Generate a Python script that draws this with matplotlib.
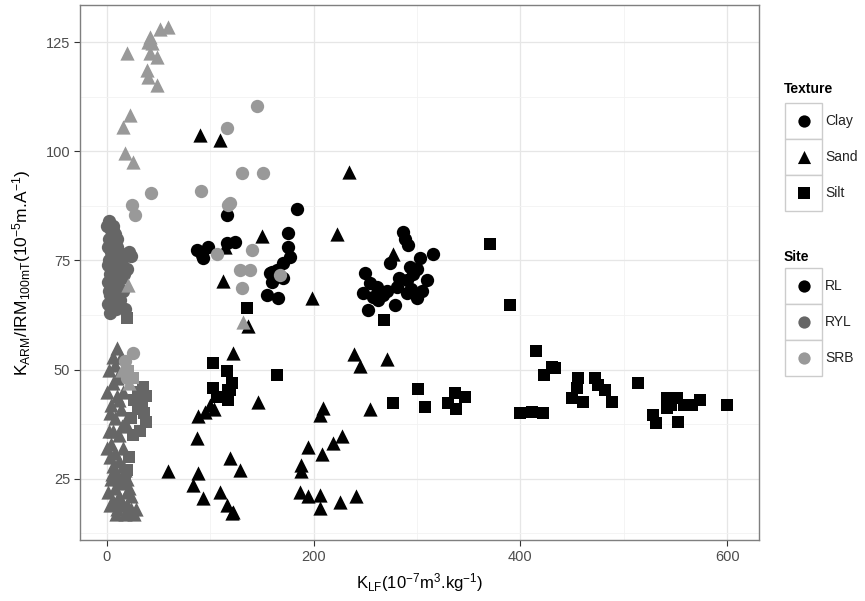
import matplotlib
matplotlib.use("Agg")
import matplotlib.pyplot as plt
from matplotlib.patches import Rectangle
from matplotlib.ticker import MultipleLocator

plt.rcParams['font.family'] = ['Liberation Sans', 'DejaVu Sans']
plt.rcParams['mathtext.fontset'] = 'custom'
plt.rcParams['mathtext.rm'] = 'Liberation Sans'
plt.rcParams['mathtext.it'] = 'Liberation Sans'

# ---------------- data ----------------
sites = ["RL", "RYL", "SRB"]
textures = ["Clay", "Sand", "Silt"]
site_colors = ["#000000", "#666666", "#999999"]
texture_markers = ["o", "^", "s"]

# RL (black)
rl_clay_x = [183.7, 175.6, 175.6, 177.3, 170.8, 164.4, 158.0, 170.8, 154.7, 166.0, 124.1, 116.0, 87.0, 91.9, 98.3, 93.4,
             159.6, 116.0, 160.0, 286.8, 291.7, 315.9, 303.0, 274.0, 293.3, 249.8, 309.5, 290.1, 254.6, 261.1, 248.2,
             267.5, 290.1, 299.8, 280.5, 253.0, 278.8, 257.8, 288.0, 296.0, 283.0, 271.0, 262.0, 305.0, 294.0, 300.0]
rl_clay_y = [86.7, 81.2, 78.2, 75.9, 74.4, 72.8, 72.1, 70.9, 67.1, 66.4, 79.3, 78.9, 77.4, 76.3, 78.2, 75.5,
             72.4, 85.4, 70.0, 81.6, 78.5, 76.6, 75.5, 74.4, 73.6, 72.1, 70.5, 70.5, 69.8, 69.0, 67.5,
             67.1, 67.5, 66.4, 69.0, 63.7, 64.8, 66.7, 80.0, 72.0, 71.0, 68.0, 66.0, 68.0, 68.5, 73.0]
rl_sand_x = [90.2, 109.6, 234.6, 150.5, 222.4, 277.2, 198.3, 137.0, 112.8, 114.4, 122.4, 239.1, 244.9, 271.4, 146.6,
             99.9, 95.1, 88.6, 87.0, 119.2, 128.9, 59.6, 88.6, 83.8, 109.6, 93.4, 116.0, 120.9, 122.4, 208.9, 206.3,
             254.6, 227.3, 218.6, 195.0, 207.9, 187.6, 187.6, 187.0, 195.0, 206.3, 206.3, 225.6, 241.1, 104.0]
rl_sand_y = [103.7, 102.6, 95.3, 80.6, 81.1, 76.6, 66.5, 59.9, 70.2, 78.2, 53.8, 53.5, 50.8, 52.4, 42.7,
             41.9, 40.4, 39.3, 34.3, 29.7, 27.1, 26.7, 26.3, 23.6, 22.1, 20.6, 19.0, 17.2, 17.5, 41.2, 39.6,
             41.0, 34.8, 33.2, 32.4, 30.7, 28.2, 26.7, 22.1, 21.0, 21.3, 18.4, 19.6, 21.0, 41.0]
rl_silt_x = [414.7, 430.4, 422.9, 433.6, 455.5, 454.5, 449.7, 460.9, 472.2, 475.4, 481.9, 488.4, 513.5, 528.6, 530.9,
             541.6, 551.3, 541.6, 552.8, 565.8, 573.8, 600.2, 399.7, 411.0, 421.7, 301.4, 307.8, 277.2, 336.8, 346.5,
             330.4, 337.8, 370.7, 390.0, 268.2, 135.4, 103.1, 116.0, 120.9, 103.1, 117.6, 164.4, 119.2, 117.6, 106.4,
             546.0, 558.0]
rl_silt_y = [54.3, 50.7, 48.8, 50.3, 48.0, 45.8, 43.5, 42.7, 48.0, 46.5, 45.4, 42.7, 47.0, 39.6, 37.7,
             43.5, 43.5, 41.2, 38.1, 41.9, 43.1, 41.8, 40.0, 40.4, 40.0, 45.5, 41.5, 42.3, 44.7, 43.8,
             42.3, 41.0, 78.8, 64.8, 61.4, 64.1, 51.5, 49.6, 46.9, 45.8, 45.4, 48.8, 45.4, 43.1, 43.8,
             42.0, 42.0]

# RYL (dark grey)
ryl_clay_x = [2, 6, 4, 8, 2, 6, 10, 4, 22, 8, 2, 12, 6, 20, 3, 9, 15, 5, 11, 2, 7, 13, 4, 9, 3, 16, 18, 24, 10,
              0, 4, 1, 5, 1, 7, 1, 3, 6, 1, 10, 12, 14, 8, 17, 19, 6]
ryl_clay_y = [84, 83, 82, 81, 80, 79, 78, 77, 77, 76, 75, 75, 74, 73, 72, 72, 71, 70, 69, 68, 67, 66, 65, 64, 63,
              68, 64, 76, 80, 83, 80, 78, 76, 74, 71, 70, 67, 65, 65, 73, 77, 74, 69, 72, 76, 82]
ryl_sand_x = [10, 14, 8, 12, 6, 16, 10, 4, 14, 8, 18, 6, 12, 4, 16, 8, 3, 12, 6, 18, 10, 4, 14, 8, 20, 12, 6, 16,
              22, 10, 26, 18, 14, 20, 24, 2, 6, 0, 3, 2, 0, 5, 1, 3, 9, 12, 16, 20, 22, 24, 28, 15, 10, 12]
ryl_sand_y = [55, 53, 51, 49, 47, 45, 44, 42, 41, 39, 38, 36, 35, 33, 32, 31, 30, 29, 28, 27, 26, 25, 24, 23, 22,
              21, 20, 19, 18, 18, 17, 17, 20, 25, 21, 50, 53, 45, 40, 36, 32, 26, 22, 19, 17, 25, 28, 19, 23, 18,
              18, 37, 48, 43]
ryl_silt_x = [35, 30, 38, 26, 34, 30, 36, 24, 38, 20, 22, 20, 18, 25, 32]
ryl_silt_y = [46, 45, 44, 43, 42, 41, 40, 39, 38, 61.8, 30, 27, 24, 35, 36]

# SRB (light grey)
srb_clay_x = [145.0, 116.0, 130.6, 151.5, 42.8, 91.2, 119.2, 117.6, 24.2, 27.4, 106.4, 140.2, 128.9, 138.6, 130.6,
              167.6, 25.7, 18.0, 20.0]
srb_clay_y = [110.4, 105.3, 95.0, 95.0, 90.5, 90.9, 88.1, 87.7, 87.7, 85.4, 76.6, 77.4, 72.8, 72.8, 68.6,
              71.7, 53.8, 52.0, 48.0]
srb_sand_x = [51.5, 59.6, 41.9, 40.2, 43.5, 19.3, 41.9, 48.4, 38.7, 40.2, 48.4, 22.5, 16.1, 17.7, 25.7,
              132.1, 20.9, 15.0, 22.0]
srb_sand_y = [128.1, 128.5, 126.2, 125.1, 124.7, 122.4, 122.4, 121.6, 118.6, 117.1, 115.2, 108.3, 105.6, 99.5, 97.6,
              61.0, 69.4, 50.0, 47.0]
srb_silt_x = [20.9, 25.0]
srb_silt_y = [49.6, 48.0]

groups = {
    ("RL", "Clay"): (rl_clay_x, rl_clay_y),
    ("RL", "Sand"): (rl_sand_x, rl_sand_y),
    ("RL", "Silt"): (rl_silt_x, rl_silt_y),
    ("RYL", "Clay"): (ryl_clay_x, ryl_clay_y),
    ("RYL", "Sand"): (ryl_sand_x, ryl_sand_y),
    ("RYL", "Silt"): (ryl_silt_x, ryl_silt_y),
    ("SRB", "Clay"): (srb_clay_x, srb_clay_y),
    ("SRB", "Sand"): (srb_sand_x, srb_sand_y),
    ("SRB", "Silt"): (srb_silt_x, srb_silt_y),
}
marker_sizes = {"o": 92, "^": 105, "s": 78}

x_ticks = [0, 200, 400, 600]
y_ticks = [25, 50, 75, 100, 125]

# ---------------- figure ----------------
W, H = 865, 601
fig = plt.figure(figsize=(W / 100, H / 100), dpi=100)
L, R, T, B = 80, 759, 5, 540
ax = fig.add_axes([L / W, 1 - B / H, (R - L) / W, (B - T) / H])

for s_i, site in enumerate(sites):
    for t_i, tex in enumerate(textures):
        xs, ys = groups[(site, tex)]
        m = texture_markers[t_i]
        ax.scatter(xs, ys, s=marker_sizes[m], marker=m, c=site_colors[s_i],
                   linewidths=0, zorder=3 + s_i)

ax.set_xlim(-25.8, 630.8)
ax.set_ylim(11.0, 133.5)
ax.set_xticks(x_ticks)
ax.set_yticks(y_ticks)
ax.xaxis.set_minor_locator(MultipleLocator(100))
ax.yaxis.set_minor_locator(MultipleLocator(12.5))
ax.grid(which='major', color='#e6e6e6', linewidth=0.9, zorder=0)
ax.grid(which='minor', color='#f2f2f2', linewidth=0.6, zorder=0)
ax.set_axisbelow(True)
ax.tick_params(which='minor', length=0)
ax.tick_params(which='major', length=4, width=0.8, color='#333333',
               labelsize=10.5, labelcolor='#4d4d4d', pad=3)
for sp in ax.spines.values():
    sp.set_color('#7f7f7f')
    sp.set_linewidth(1.0)

ax.set_xlabel(r'$\mathregular{K_{LF}(10^{-7}m^{3}.\!kg^{-1})}$', fontsize=12, labelpad=5)
ax.set_ylabel(r'$\mathregular{K_{ARM}/IRM_{100mT}(10^{-5}m.\!A^{-1})}$', fontsize=12.5, labelpad=9)

# ---------------- legends ----------------
lax = fig.add_axes([0, 0, 1, 1], zorder=-1)
lax.set_xlim(0, W)
lax.set_ylim(H, 0)
lax.axis('off')

key_x0, key_w, key_h = 785, 37, 36
def draw_legend(title, title_y, top, labels, markers, colors):
    lax.text(key_x0 - 1, title_y, title, fontsize=10, fontweight='bold', va='center', ha='left')
    for i, (lab, mk, col) in enumerate(zip(labels, markers, colors)):
        y0 = top + i * key_h
        lax.add_patch(Rectangle((key_x0, y0), key_w, key_h, facecolor='white',
                                edgecolor='#cccccc', linewidth=1.0))
        lax.scatter([key_x0 + key_w / 2], [y0 + key_h / 2], s=marker_sizes[mk] * 0.85,
                    marker=mk, c=col, linewidths=0)
        lax.text(key_x0 + key_w + 3, y0 + key_h / 2, lab, fontsize=10, va='center',
                 ha='left', color='#222222')

draw_legend("Texture", 89, 103, textures, texture_markers, ["#000000"] * 3)
draw_legend("Site", 257, 268, sites, ["o"] * 3, site_colors)

fig.savefig("out.png", dpi=100)
